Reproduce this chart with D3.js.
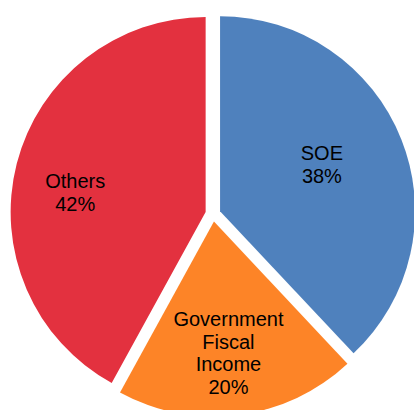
<!DOCTYPE html>
<html>
<head>
<meta charset="utf-8">
<script src="https://cdn.jsdelivr.net/npm/d3@7"></script>
<style>
  html, body { margin: 0; padding: 0; background: #fff; }
  svg { display: block; }
</style>
</head>
<body>
<script>
// Funding sources, share of total (%)
const categories = ["SOE", "Government Fiscal Income", "Others"];
const labelLines = [["SOE"], ["Government", "Fiscal", "Income"], ["Others"]];
const values = [38, 20, 42];
const colors = ["#4F81BD", "#FD8427", "#E3313F"];

const width = 414, height = 410;
const cx = 213, cy = 214;
const radius = 195;
const explode = 7.6;
const fontSize = 20;
const lineHeight = 22.7;
// Label placement inside each slice: distance from the slice tip, and a
// small angular nudge (degrees) away from the slice bisector.
const labelPlacement = [
  { r: 112, turn: -3 },
  { r: 132, turn: 0.9 },
  { r: 132, turn: -5.7 }
];

const svg = d3.select("body").append("svg")
  .attr("width", width)
  .attr("height", height);

const pie = d3.pie().sort(null).value(d => d)(values);
const arc = d3.arc().innerRadius(0).outerRadius(radius);

const g = svg.append("g").attr("transform", `translate(${cx},${cy})`);

const slice = g.selectAll("g.slice")
  .data(pie)
  .join("g")
  .attr("class", "slice")
  .attr("transform", d => {
    const a = (d.startAngle + d.endAngle) / 2;
    return `translate(${Math.sin(a) * explode},${-Math.cos(a) * explode})`;
  });

slice.append("path")
  .attr("d", arc)
  .attr("fill", (d, i) => colors[i]);

// Category name and percentage inside each slice
slice.each(function (d, i) {
  const p = labelPlacement[i];
  const a = (d.startAngle + d.endAngle) / 2 + p.turn * Math.PI / 180;
  const x = Math.sin(a) * p.r;
  const y = -Math.cos(a) * p.r;
  const lines = labelLines[i].concat([d3.format(".0f")(values[i]) + "%"]);
  const t = d3.select(this).append("text")
    .attr("text-anchor", "middle")
    .attr("font-family", "Liberation Sans, Arial, sans-serif")
    .attr("font-size", fontSize)
    .attr("fill", "#000");
  const y0 = y - (lines.length - 1) * lineHeight / 2 + fontSize * 0.36;
  lines.forEach((ln, k) => {
    t.append("tspan")
      .attr("x", x)
      .attr("y", y0 + k * lineHeight)
      .text(ln);
  });
});
</script>
</body>
</html>
